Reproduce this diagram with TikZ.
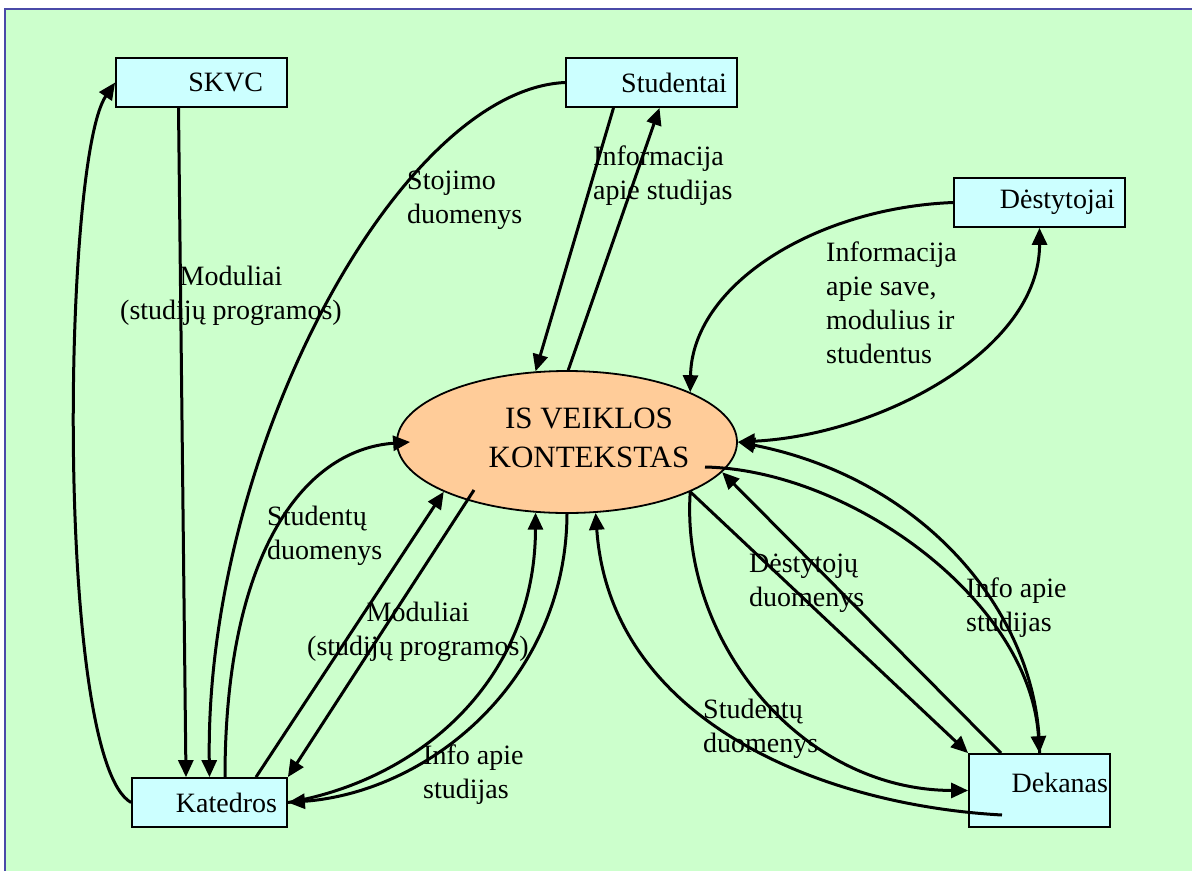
\documentclass[tikz,border=0pt]{standalone}
\usepackage{fontspec}
\setmainfont{Liberation Serif}
\usepackage{tikz}
\usetikzlibrary{arrows.meta,calc,shapes.geometric}
\definecolor{bgG}{HTML}{CCFFCC}
\definecolor{entL}{HTML}{CCFFFF}
\definecolor{ctxL}{HTML}{FFCC99}
\definecolor{frm}{HTML}{4A4AA8}
\tikzset{
  ent/.style  ={draw, fill=entL, line width=1.8pt, minimum height=49pt, inner ysep=0pt,
                inner xsep=10pt, align=right, font=\fontsize{28}{34}\selectfont},
  proc/.style ={ellipse, draw, fill=ctxL, line width=1.8pt, minimum width=340pt,
                minimum height=142pt, inner sep=0pt},
  lbl/.style  ={font=\fontsize{28}{34}\selectfont, align=left, inner sep=0pt},
  flow/.style ={-{Triangle[length=17pt,width=15pt]}, line width=3pt},
  flowt/.style={{Triangle[length=17pt,width=15pt]}-{Triangle[length=17pt,width=15pt]}, line width=3pt},
}
\begin{document}
\begin{tikzpicture}[x=1pt,y=-1pt]
  \useasboundingbox (0,0) rectangle (1192,871);
  \fill[bgG] (5,9) rectangle (1192,871);
  \draw[frm, line width=2pt] (5,871) -- (5,9) -- (1192,9);

  \node[ent, text width=123pt, inner xsep=24pt](skvc) at (201.5,82.5){SKVC};
  \node[ent, text width=151pt](stud) at (651.5,82.5){Studentai};
  \node[ent, text width=151pt](dest) at (1039.5,202.5){Dėstytojai};
  \node[ent, text width=135pt](kat) at (209.5,802.5){Katedros};
  \node[ent, text width=137pt, inner xsep=2pt, minimum height=73pt, text depth=15pt](dek) at (1039.5,790.5){Dekanas};
  \node[proc](ctx) at (567,442){};
  \node[lbl, align=center, font=\fontsize{31}{39}\selectfont](ctxtxt) at (589,438){IS VEIKLOS\\KONTEKSTAS};
  \coordinate (dekin) at ($(dek.center)+(-37.5,24.5)$);

  \node[lbl, align=center](modskvc) at (231,296){Moduliai\\(studijų programos)};
  \node[lbl, anchor=west](stoj) at (407,200){Stojimo\\duomenys};
  \node[lbl, anchor=west](infstud) at (593,176){Informacija\\apie studijas};
  \node[lbl, anchor=west](infdest) at (826,303){Informacija\\apie save,\\modulius ir\\studentus};
  \node[lbl, anchor=west](studkat) at (267,536){Studentų\\duomenys};
  \node[lbl, align=center](modkat) at (418,632){Moduliai\\(studijų programos)};
  \node[lbl, anchor=west](infkat) at (423,775){Info apie\\studijas};
  \node[lbl, anchor=west](destdek) at (749,583){Dėstytojų\\duomenys};
  \node[lbl, anchor=west](infdek) at (966,608){Info apie\\studijas};
  \node[lbl, anchor=west](studdek) at (703,729){Studentų\\duomenys};

  \draw[flow](kat.west) .. controls (55,760) and (62,160) .. (skvc.west);
  \draw[flow]($(skvc.south)+(-23,0)$) -- ($(kat.north)+(-23.5,0)$);
  \draw[flow](stud.west) .. controls (400,90) and (205,450) .. (kat.north);
  \draw[flow]($(stud.south)+(-38,0)$) -- (ctx.114);
  \draw[flow](ctx.89) -- ($(stud.south)+(8,0)$);
  \draw[flow](dest.west) .. controls (815,208) and (692,285) .. (ctx.22);
  \draw[flowt](ctx.east) .. controls (880,435) and (1040,350) .. (dest.south);
  \draw[flow]($(kat.north)+(15.5,0)$) .. controls (225,560) and (300,450) .. ($(ctx.west)+(14,0)$);
  \draw[flow]($(kat.north)+(46.5,0)$) -- (ctx.202);
  \draw[flow]($(ctx.center)+(-93,48)$) -- (kat.north east);
  \draw[flow](kat.east) .. controls (420,780) and (535,680) .. (ctx.246);
  \draw[flow](ctx.270) .. controls (566,680) and (430,792) .. (kat.east);
  \draw[flow](dekin) .. controls (820,805) and (610,720) .. (ctx.292);
  \draw[flow](ctx.338) .. controls (680,640) and (800,790) .. (dek.west);
  \draw[flow](ctx.338) -- (dek.north west);
  \draw[flow]($(dek.north)+(-38.5,0)$) -- (ctx.349);
  \draw[flow](dek.north) .. controls (1040,620) and (930,480) .. (ctx.east);
  \draw[flow]($(ctx.center)+(138,25)$) .. controls (850,470) and (1030,600) .. (dek.north);
\end{tikzpicture}
\end{document}
